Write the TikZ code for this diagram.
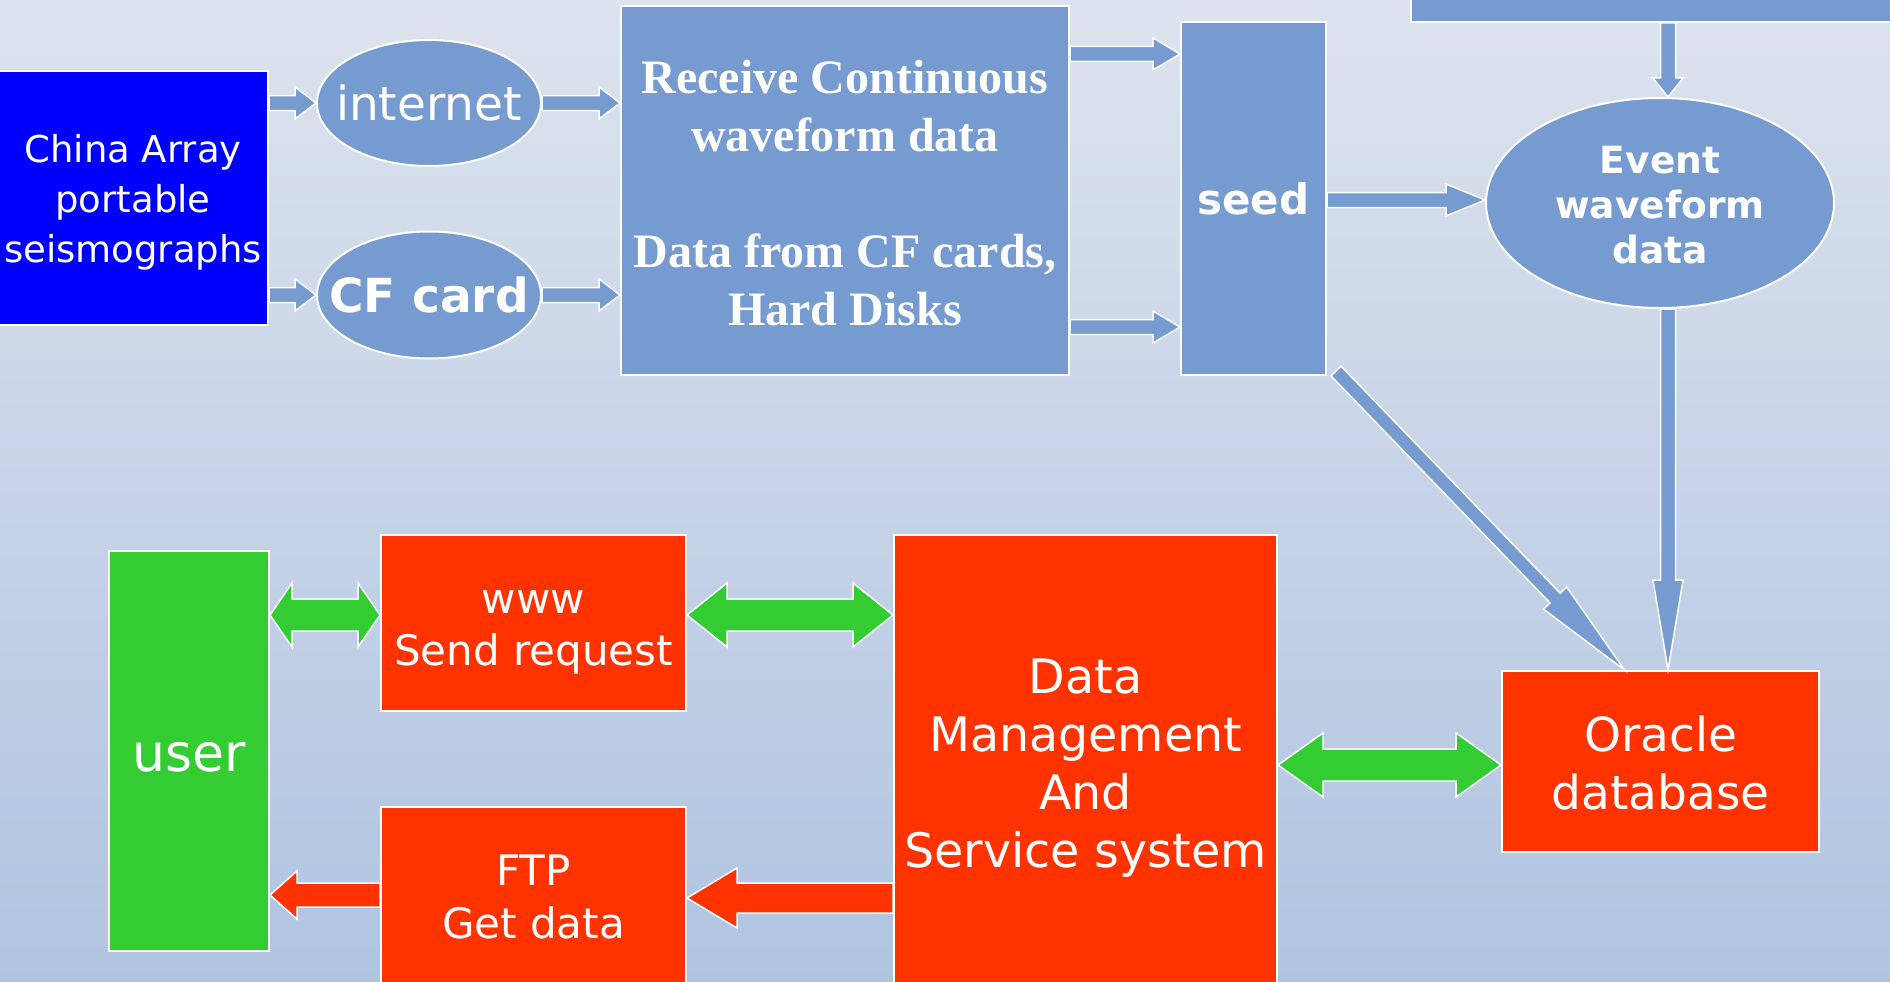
\documentclass[tikz,border=0pt]{standalone}
\usepackage{fontspec}
\setmainfont{DejaVu Sans}
\newfontfamily\timesbold{Liberation Serif}
\usetikzlibrary{calc,shapes.geometric}

\definecolor{panelblue}{RGB}{118,155,208}
\definecolor{appred}{RGB}{255,51,0}
\definecolor{usergreen}{RGB}{51,204,51}
\definecolor{bgtop}{RGB}{221,227,238}
\definecolor{bgbottom}{RGB}{176,196,224}

% [style]{from}{to}{half shaft}{half head}{head length}
\newcommand{\fatarrow}[6][]{%
  \coordinate (fa-neck) at ($(#3)!#6!(#2)$);
  \filldraw[#1] ($(#2)!#4!90:(#3)$) -- ($(fa-neck)!#4!90:(#3)$) -- ($(fa-neck)!#5!90:(#3)$) -- (#3)
    -- ($(fa-neck)!#5!-90:(#3)$) -- ($(fa-neck)!#4!-90:(#3)$) -- ($(#2)!#4!-90:(#3)$) -- cycle;
}
\newcommand{\fatdouble}[6][]{%
  \coordinate (fa-a) at ($(#2)!#6!(#3)$);
  \coordinate (fa-b) at ($(#3)!#6!(#2)$);
  \filldraw[#1] (#2) -- ($(fa-a)!#5!90:(#3)$) -- ($(fa-a)!#4!90:(#3)$) -- ($(fa-b)!#4!90:(#3)$)
    -- ($(fa-b)!#5!90:(#3)$) -- (#3) -- ($(fa-b)!#5!-90:(#3)$) -- ($(fa-b)!#4!-90:(#3)$)
    -- ($(fa-a)!#4!-90:(#3)$) -- ($(fa-a)!#5!-90:(#3)$) -- cycle;
}

\begin{document}
\begin{tikzpicture}[x=1pt, y=-1pt,
    box/.style={draw=white, line width=2pt, inner sep=0pt, text=white, align=center},
    oval/.style={box, ellipse, fill=panelblue},
    bluearrow/.style={fill=panelblue, draw=white, line width=1.5pt},
    greenarrow/.style={fill=usergreen, draw=white, line width=1.5pt},
    redarrow/.style={fill=appred, draw=white, line width=1.5pt}]
    \useasboundingbox (0,0) rectangle (1890,982);
    \clip (0,0) rectangle (1890,982);
    \fill[top color=bgtop, bottom color=bgbottom] (0,0) rectangle (1890,982);

    \node [box, fill=blue, minimum width=270pt, minimum height=254pt, font=\fontsize{37}{50}\selectfont] (china) at (133,198) {\rule{0pt}{36pt}China Array\\portable\\seismographs};
    \node [oval, minimum width=224pt, minimum height=126pt, font=\fontsize{47}{56}\selectfont] (inet) at (429,103) {\makebox[0pt]{internet}};
    \node [oval, minimum width=224pt, minimum height=127pt, font=\bfseries\fontsize{47}{56}\selectfont] (cf) at (429,295) {\makebox[0pt]{CF card}};
    \node [box, fill=panelblue, minimum width=448pt, minimum height=369pt, font=\timesbold\bfseries\fontsize{48}{58}\selectfont] (recv) at (845,190.5) {\rule{0pt}{38pt}Receive Continuous\\waveform data\\[58pt]Data from CF cards,\\Hard Disks};
    \node [box, fill=panelblue, minimum width=145pt, minimum height=353pt, font=\bfseries\fontsize{42}{50}\selectfont] (seed) at (1253.5,198.5) {seed};
    \node [box, fill=panelblue, minimum width=500pt, minimum height=40pt] (bar) at (1661,2) {};
    \node [oval, minimum width=348pt, minimum height=210pt, font=\bfseries\fontsize{37.5}{45}\selectfont] (event) at (1660,203) {\rule{0pt}{32pt}Event\\waveform\\data};

    \node [box, fill=usergreen, minimum width=160pt, minimum height=400pt, font=\fontsize{52}{60}\selectfont] (user) at (189,751) {\rule{0pt}{42pt}user};
    \node [box, fill=appred, minimum width=305pt, minimum height=176pt, font=\fontsize{42}{52}\selectfont] (www) at (533.5,623) {\rule{0pt}{42pt}www\\Send request};
    \node [box, fill=appred, minimum width=305pt, minimum height=180pt, font=\fontsize{42}{53}\selectfont] (ftp) at (533.5,897) {FTP\\Get data};
    \node [box, fill=appred, minimum width=383pt, minimum height=454pt, font=\fontsize{47.5}{58}\selectfont] (dms) at (1085.5,762) {\rule{0pt}{47pt}Data\\Management\\And\\Service system};
    \node [box, fill=appred, minimum width=317pt, minimum height=181pt, font=\fontsize{47}{58}\selectfont] (oracle) at (1660.5,761.5) {\rule{0pt}{38pt}Oracle\\database};

    \coordinate (seedcorner) at ([shift={(9,-5)}]seed.south east);
    \coordinate (oracletip) at ([xshift=-36pt]oracle.north);
    \coordinate (eventtop) at ([xshift=8pt]event.north);
    \coordinate (eventbottom) at ([xshift=8pt]event.south);

    \fatarrow[bluearrow]{china.east |- inet.west}{inet.west}{7.5pt}{16pt}{21pt}
    \fatarrow[bluearrow]{china.east |- cf.west}{cf.west}{7.5pt}{16pt}{21pt}
    \fatarrow[bluearrow]{inet.east}{recv.west |- inet.east}{7.5pt}{16pt}{21pt}
    \fatarrow[bluearrow]{cf.east}{recv.west |- cf.east}{7.5pt}{16pt}{21pt}
    \fatarrow[bluearrow]{recv.east |- 0,54}{seed.west |- 0,54}{7.5pt}{16pt}{27pt}
    \fatarrow[bluearrow]{recv.east |- 0,327}{seed.west |- 0,327}{7.5pt}{16pt}{27pt}
    \fatarrow[bluearrow]{seed.east |- 0,200}{event.west |- 0,200}{7.5pt}{16pt}{39pt}
    \fatarrow[bluearrow]{eventtop |- bar.south}{eventtop}{7.5pt}{15pt}{19pt}
    \fatarrow[bluearrow]{eventbottom}{eventbottom |- oracle.north}{7.5pt}{15pt}{90pt}
    \fatarrow[bluearrow]{seedcorner}{oracletip}{7pt}{16pt}{100pt}

    \fatdouble[greenarrow]{dms.east |- 0,765}{oracle.west |- 0,765}{16pt}{32pt}{45pt}
    \fatdouble[greenarrow]{user.east |- 0,615}{www.west |- 0,615}{16pt}{32pt}{22pt}
    \fatdouble[greenarrow]{www.east |- 0,615}{dms.west |- 0,615}{16pt}{32pt}{40pt}
    \fatarrow[redarrow]{dms.west |- 0,898}{ftp.east |- 0,898}{15pt}{30pt}{50pt}
    \fatarrow[redarrow]{ftp.west |- 0,895}{user.east |- 0,895}{12pt}{24pt}{27pt}
\end{tikzpicture}
\end{document}
